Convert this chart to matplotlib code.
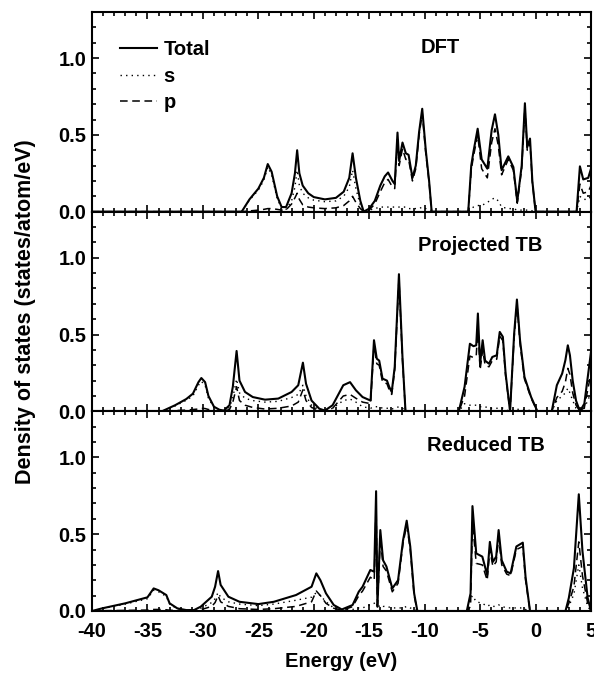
import matplotlib
matplotlib.use("Agg")
import matplotlib.pyplot as plt
from matplotlib.ticker import MultipleLocator
import numpy as np

plt.rcParams['font.family'] = ['Liberation Sans', 'DejaVu Sans']
plt.rcParams['font.weight'] = 'bold'
plt.rcParams['axes.unicode_minus'] = False

# ---------------- DFT ----------------
e_dft = [-40, -26.5, -25.8, -25.0, -24.5, -24.15, -23.8, -23.3, -22.9, -22.5, -22.0, -21.7,
         -21.5, -21.3, -21.0, -20.5, -20.0, -19.0, -18.0, -17.3, -16.8, -16.5, -16.2, -15.8,
         -15.5, -15.0, -14.5, -14.0, -13.6, -13.3, -12.9, -12.7, -12.45, -12.3, -12.0, -11.7,
         -11.45, -11.1, -10.8, -10.5, -10.22, -9.9, -9.6, -9.37, -6.07, -5.8, -5.6, -5.22,
         -4.86, -4.35, -3.96, -3.66, -3.36, -3.06, -2.46, -2.0, -1.65, -1.25, -0.96, -0.75,
         -0.5, -0.29, 0.0, 3.7, 4.0, 4.3, 4.75, 5.0]
tot_dft = [0, 0, 0.08, 0.15, 0.22, 0.31, 0.26, 0.10, 0.03, 0.03, 0.12, 0.25,
           0.40, 0.25, 0.17, 0.12, 0.095, 0.08, 0.09, 0.13, 0.22, 0.38, 0.22, 0.07,
           0.0, 0.02, 0.07, 0.17, 0.23, 0.255, 0.20, 0.18, 0.515, 0.33, 0.45, 0.38,
           0.37, 0.22, 0.30, 0.52, 0.67, 0.40, 0.20, 0.0, 0.0, 0.30, 0.39, 0.54,
           0.34, 0.28, 0.53, 0.634, 0.50, 0.27, 0.36, 0.29, 0.067, 0.30, 0.706, 0.42,
           0.476, 0.20, 0.0, 0.0, 0.295, 0.21, 0.22, 0.28]
s_dft = [0, 0, 0.075, 0.14, 0.205, 0.29, 0.24, 0.085, 0.02, 0.015, 0.07, 0.16,
         0.27, 0.17, 0.12, 0.09, 0.075, 0.065, 0.07, 0.10, 0.16, 0.27, 0.15, 0.04,
         0.0, 0.01, 0.02, 0.03, 0.03, 0.03, 0.03, 0.03, 0.03, 0.03, 0.03, 0.03,
         0.02, 0.02, 0.02, 0.02, 0.03, 0.02, 0.01, 0.0, 0.0, 0.02, 0.03, 0.04,
         0.04, 0.06, 0.08, 0.09, 0.07, 0.03, 0.02, 0.02, 0.01, 0.01, 0.01, 0.01,
         0.01, 0.005, 0.0, 0.0, 0.10, 0.08, 0.08, 0.10]
p_dft = [0, 0, 0.005, 0.01, 0.015, 0.02, 0.02, 0.015, 0.01, 0.012, 0.05, 0.09,
         0.12, 0.08, 0.045, 0.03, 0.025, 0.02, 0.025, 0.04, 0.07, 0.10, 0.06, 0.02,
         0.0, 0.01, 0.05, 0.13, 0.19, 0.21, 0.16, 0.15, 0.47, 0.30, 0.41, 0.34,
         0.34, 0.20, 0.28, 0.50, 0.64, 0.38, 0.19, 0.0, 0.0, 0.27, 0.36, 0.50,
         0.28, 0.22, 0.45, 0.54, 0.43, 0.24, 0.34, 0.27, 0.055, 0.28, 0.68, 0.40,
         0.45, 0.19, 0.0, 0.0, 0.18, 0.12, 0.13, 0.17]

# ---------------- Projected TB ----------------
e_ptb = [-40, -33.7, -32.5, -31.5, -30.9, -30.4, -30.14, -29.8, -29.5, -29.0, -28.5, -28.1,
         -27.6, -27.3, -26.96, -26.7, -26.2, -25.5, -24.4, -23.2, -22.0, -21.4, -20.98, -20.7,
         -20.2, -19.5, -19.0, -18.3, -17.34, -16.73, -16.2, -15.6, -14.88, -14.57, -14.32, -14.1,
         -13.8, -13.4, -13.2, -12.97, -12.7, -12.32, -12.0, -11.73, -6.92, -6.4, -5.92, -5.6,
         -5.35, -5.2, -5.0, -4.77, -4.55, -4.2, -3.9, -3.5, -3.23, -2.95, -2.7, -2.3,
         -1.93, -1.68, -1.4, -1.0, -0.4, 0.17, 1.46, 1.92, 2.4, 2.69, 2.91, 3.1,
         3.35, 3.65, 4.0, 4.4, 5.0]
tot_ptb = [0, 0, 0.04, 0.08, 0.115, 0.19, 0.217, 0.19, 0.10, 0.03, 0.01, 0.005,
           0.04, 0.16, 0.393, 0.20, 0.126, 0.093, 0.076, 0.083, 0.126, 0.17, 0.317, 0.18,
           0.07, 0.017, 0.005, 0.04, 0.17, 0.19, 0.137, 0.093, 0.07, 0.463, 0.343, 0.33,
           0.213, 0.20, 0.16, 0.126, 0.29, 0.893, 0.35, 0.0, 0.0, 0.16, 0.44, 0.424,
           0.43, 0.637, 0.31, 0.463, 0.33, 0.31, 0.354, 0.365, 0.517, 0.485, 0.246, 0.0,
           0.506, 0.728, 0.463, 0.224, 0.093, 0.0, 0.0, 0.17, 0.246, 0.333, 0.43, 0.365,
           0.20, 0.07, 0.0, 0.05, 0.387]
s_ptb = [0, 0, 0.035, 0.072, 0.10, 0.17, 0.195, 0.17, 0.085, 0.025, 0.008, 0.004,
         0.025, 0.09, 0.21, 0.12, 0.085, 0.07, 0.06, 0.065, 0.09, 0.11, 0.17, 0.10,
         0.04, 0.01, 0.003, 0.02, 0.07, 0.08, 0.06, 0.03, 0.02, 0.03, 0.03, 0.03,
         0.02, 0.02, 0.02, 0.015, 0.02, 0.03, 0.02, 0.0, 0.0, 0.05, 0.04, 0.04,
         0.04, 0.04, 0.03, 0.03, 0.03, 0.02, 0.02, 0.02, 0.02, 0.02, 0.01, 0.0,
         0.01, 0.015, 0.01, 0.01, 0.005, 0.0, 0.0, 0.07, 0.10, 0.12, 0.15, 0.12,
         0.07, 0.02, 0.0, 0.02, 0.12]
p_ptb = [0, 0, 0.005, 0.008, 0.012, 0.015, 0.02, 0.018, 0.012, 0.005, 0.002, 0.001,
         0.012, 0.06, 0.16, 0.07, 0.04, 0.025, 0.015, 0.02, 0.035, 0.06, 0.14, 0.07,
         0.025, 0.006, 0.002, 0.02, 0.10, 0.11, 0.085, 0.06, 0.05, 0.43, 0.31, 0.30,
         0.19, 0.18, 0.14, 0.11, 0.27, 0.86, 0.33, 0.0, 0.0, 0.10, 0.36, 0.35,
         0.36, 0.55, 0.27, 0.40, 0.30, 0.29, 0.33, 0.34, 0.49, 0.46, 0.23, 0.0,
         0.48, 0.70, 0.44, 0.21, 0.085, 0.0, 0.0, 0.09, 0.13, 0.19, 0.28, 0.24,
         0.12, 0.04, 0.0, 0.025, 0.25]

# ---------------- Reduced TB ----------------
e_rtb = [-40, -39.1, -37.0, -35.0, -34.44, -34.0, -33.3, -33.0, -32.3, -31.5, -30.8, -30.2,
         -29.2, -28.9, -28.63, -28.4, -27.7, -26.7, -25.0, -23.6, -21.6, -20.2, -19.77, -19.4,
         -18.9, -18.2, -17.47, -16.5, -15.94, -15.6, -14.9, -14.55, -14.38, -14.26, -14.0, -13.75,
         -13.45, -12.92, -12.4, -11.95, -11.62, -11.3, -10.95, -10.66, -6.2, -5.86, -5.69, -5.35,
         -4.8, -4.36, -4.12, -3.85, -3.55, -3.33, -3.05, -2.6, -2.25, -1.73, -1.15, -0.9,
         -0.5, 2.7, 3.0, 3.46, 3.9, 4.23, 4.7, 5.0]
tot_rtb = [0, 0.017, 0.05, 0.089, 0.147, 0.135, 0.104, 0.05, 0.017, 0.006, 0.006, 0.028,
           0.093, 0.158, 0.26, 0.17, 0.093, 0.06, 0.045, 0.06, 0.104, 0.158, 0.245, 0.20,
           0.115, 0.039, 0.01, 0.039, 0.126, 0.158, 0.267, 0.256, 0.78, 0.03, 0.527, 0.33,
           0.29, 0.147, 0.20, 0.46, 0.588, 0.42, 0.115, 0.0, 0.0, 0.115, 0.683, 0.375,
           0.354, 0.234, 0.45, 0.32, 0.354, 0.527, 0.33, 0.256, 0.245, 0.42, 0.445, 0.22,
           0.0, 0.0, 0.085, 0.28, 0.76, 0.39, 0.085, 0.0]
s_rtb = [0, 0.015, 0.045, 0.08, 0.135, 0.125, 0.095, 0.045, 0.014, 0.005, 0.004, 0.018,
         0.055, 0.08, 0.12, 0.09, 0.06, 0.045, 0.035, 0.045, 0.07, 0.09, 0.12, 0.10,
         0.06, 0.02, 0.005, 0.01, 0.02, 0.02, 0.04, 0.05, 0.06, 0.02, 0.04, 0.03,
         0.03, 0.02, 0.02, 0.02, 0.03, 0.02, 0.01, 0.0, 0.0, 0.08, 0.10, 0.06,
         0.05, 0.03, 0.04, 0.03, 0.03, 0.04, 0.03, 0.02, 0.02, 0.02, 0.02, 0.01,
         0.0, 0.0, 0.03, 0.11, 0.30, 0.15, 0.03, 0.0]
p_rtb = [0, 0.002, 0.004, 0.006, 0.01, 0.01, 0.008, 0.005, 0.003, 0.001, 0.001, 0.008,
         0.03, 0.055, 0.10, 0.06, 0.03, 0.015, 0.01, 0.015, 0.03, 0.06, 0.13, 0.10,
         0.05, 0.018, 0.005, 0.028, 0.10, 0.13, 0.22, 0.20, 0.70, 0.01, 0.48, 0.29,
         0.26, 0.125, 0.18, 0.44, 0.56, 0.40, 0.10, 0.0, 0.0, 0.03, 0.58, 0.31,
         0.30, 0.20, 0.40, 0.29, 0.32, 0.48, 0.30, 0.24, 0.23, 0.40, 0.42, 0.20,
         0.0, 0.0, 0.05, 0.16, 0.45, 0.23, 0.05, 0.0]

panels = [
    ("DFT", e_dft, tot_dft, s_dft, p_dft, (-8.6, 1.07)),
    ("Projected TB", e_ptb, tot_ptb, s_ptb, p_ptb, (-5.0, 1.08)),
    ("Reduced TB", e_rtb, tot_rtb, s_rtb, p_rtb, (-4.45, 1.08)),
]

fig = plt.figure(figsize=(5.94, 6.75), dpi=100)
left, right = 92 / 594, 591 / 594
top, bottom = 1 - 12 / 675, 1 - 611 / 675
h = (top - bottom) / 3
FS = 14.5

for i, (name, e, tot, s, p, lab) in enumerate(panels):
    ax = fig.add_axes([left, top - (i + 1) * h, right - left, h])
    ax.plot(e, tot, color='black', lw=1.5, ls='-', label='Total')
    ax.plot(e, s, color='black', lw=1.0, ls=(0, (1, 3)), label='s')
    ax.plot(e, p, color='black', lw=1.1, ls=(0, (5, 3)), label='p')
    ax.set_xlim(-40, 5)
    ax.set_ylim(0, 1.3)
    ax.xaxis.set_major_locator(MultipleLocator(5))
    ax.xaxis.set_minor_locator(MultipleLocator(1))
    ax.yaxis.set_major_locator(MultipleLocator(0.5))
    ax.yaxis.set_minor_locator(MultipleLocator(0.1))
    ax.yaxis.set_major_formatter(plt.FormatStrFormatter('%.1f'))
    ax.tick_params(which='both', direction='in', top=True, right=True, width=1.2,
                   labelsize=FS)
    ax.tick_params(which='major', length=5)
    ax.tick_params(which='minor', length=3)
    ax.tick_params(axis='x', pad=8)
    ax.tick_params(axis='y', pad=4)
    for sp in ax.spines.values():
        sp.set_linewidth(1.5)
    if i < 2:
        ax.tick_params(labelbottom=False)
    for t in ax.get_xticklabels() + ax.get_yticklabels():
        t.set_fontweight('bold')
    ax.text(lab[0], lab[1], name, ha='center', va='center', fontsize=FS, fontweight='bold')
    if i == 0:
        ax.legend(loc='upper left', bbox_to_anchor=(0.04, 0.90), frameon=False,
                  prop={'size': FS, 'weight': 'bold'}, handlelength=1.85,
                  handletextpad=0.3, labelspacing=0.38, borderaxespad=0.0)
    if i == 2:
        ax.set_xlabel('Energy (eV)', fontsize=FS, fontweight='bold', labelpad=8)
    if i == 1:
        ax.set_ylabel('Density of states (states/atom/eV)', fontsize=15.5,
                      fontweight='bold', labelpad=16)

fig.savefig('out.png', dpi=100)
